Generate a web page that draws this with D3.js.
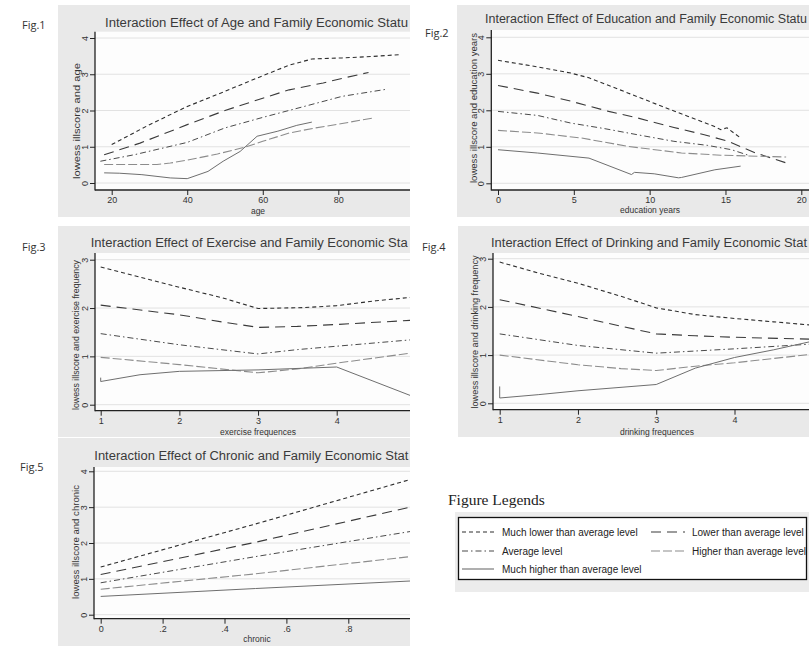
<!DOCTYPE html>
<html>
<head>
<meta charset="utf-8">
<script src="https://cdn.jsdelivr.net/npm/d3@7"></script>
<style>
body { margin: 0; background: #fff; }
svg { display: block; }
</style>
</head>
<body>
<svg width="809" height="646"></svg>
<script>

// income levels (legend)
var levels = ["Much lower than average level", "Lower than average level",
    "Average level", "Higher than average level", "Much higher than average level"];

// tick values
var ageTicks = [20, 40, 60, 80];
var eduTicks = [0, 5, 10, 15, 20];
var freqTicks = [1, 2, 3, 4];
var chronicTicks = [0, 0.2, 0.4, 0.6, 0.8];
var illTicks4 = [0, 1, 2, 3, 4];
var illTicks3 = [0, 1, 2, 3];

// Fig.1 age
var ageMuchLower = [[20,1.06],[30,1.61],[40,2.11],[50,2.53],[60,2.96],[67,3.25],[73,3.42],[81,3.45],[89,3.49],[96,3.54]];
var ageLower = [[18,0.78],[27.5,1.10],[40,1.61],[50,2.0],[60,2.34],[67,2.57],[76,2.76],[82,2.91],[88,3.05]];
var ageAverage = [[17,0.6],[26,0.78],[40,1.12],[50,1.52],[60,1.81],[72,2.14],[81,2.39],[93,2.59]];
var ageHigher = [[18,0.51],[32,0.51],[35.5,0.55],[40,0.63],[48,0.8],[55,0.98],[60,1.15],[67,1.38],[74,1.52],[81,1.64],[89,1.79]];
var ageMuchHigher = [[18,0.28],[22,0.27],[28,0.23],[35.5,0.14],[40,0.12],[45.5,0.32],[49.5,0.6],[54,0.87],[58.5,1.29],[64,1.43],[69,1.59],[73,1.68]];

// Fig.2 education years
var eduMuchLower = [[0,3.37],[2.6,3.19],[4.8,3.02],[6,2.89],[8.6,2.47],[10.8,2.11],[12.5,1.84],[14.2,1.57],[14.7,1.47],[15.1,1.52],[16,1.24]];
var eduLower = [[0,2.68],[2.6,2.47],[4.8,2.25],[7.3,1.97],[9.2,1.79],[11.6,1.53],[13.6,1.33],[15.2,1.15],[16,1.0],[17,0.83],[19,0.56]];
var eduAverage = [[0,1.97],[2.6,1.86],[4.8,1.65],[7,1.5],[9.2,1.33],[11.6,1.15],[13.8,1.04],[15.4,0.92],[16.5,0.77]];
var eduHigher = [[0,1.45],[2.6,1.38],[5.5,1.24],[8.6,1.01],[12.1,0.83],[14.7,0.77],[19,0.72]];
var eduMuchHigher = [[0,0.92],[2.6,0.83],[6,0.69],[8.8,0.24],[9,0.3],[10.3,0.26],[11.9,0.15],[12.1,0.16],[14.3,0.37],[16,0.47]];

// Fig.3 exercise frequences
var exMuchLower = [[1,2.85],[2,2.43],[2.55,2.21],[3,1.99],[3.6,2.01],[4,2.05],[4.5,2.15],[5,2.23]];
var exLower = [[1,2.06],[2,1.86],[2.55,1.71],[3,1.6],[3.5,1.62],[4,1.66],[5,1.75]];
var exAverage = [[1,1.47],[2,1.24],[3,1.05],[3.5,1.14],[4,1.21],[5,1.35]];
var exHigher = [[1,0.98],[2,0.83],[3,0.66],[3.5,0.74],[4,0.86],[5,1.08]];
var exMuchHigher = [[1,0.56],[1,0.48],[1.5,0.62],[2,0.69],[3,0.72],[4,0.78],[5,0.15]];

// Fig.4 drinking frequences
var drMuchLower = [[1,2.93],[1.5,2.70],[2,2.49],[2.55,2.22],[3,1.98],[3.5,1.84],[4,1.76],[4.5,1.69],[5,1.62]];
var drLower = [[1,2.15],[2,1.8],[2.55,1.6],[3,1.44],[3.5,1.40],[4,1.37],[5,1.33]];
var drAverage = [[1,1.44],[2,1.2],[3,1.04],[4,1.13],[5,1.23]];
var drHigher = [[1,1.0],[2,0.8],[2.55,0.72],[3,0.68],[3.5,0.77],[4,0.84],[5,1.02]];
var drMuchHigher = [[1,0.35],[1,0.11],[1.5,0.18],[2,0.26],[3,0.39],[3.5,0.73],[4,0.95],[4.5,1.11],[5,1.29]];

// Fig.5 chronic
var chMuchLower = [[0,1.33],[0.5,2.53],[1,3.77]];
var chLower = [[0,1.12],[0.5,2.02],[1,3.0]];
var chAverage = [[0,0.89],[0.5,1.62],[1,2.32]];
var chHigher = [[0,0.71],[0.5,1.14],[1,1.62]];
var chMuchHigher = [[0,0.51],[0.5,0.73],[1,0.94]];

// line look for each level
var lineStyles = [
    {dash: "4,3", color: "#2e2e2e", width: 1.1},
    {dash: "10,6", color: "#3a3a3a", width: 1.1},
    {dash: "6,3,1.5,3", color: "#4a4a4a", width: 1.0},
    {dash: "9,3", color: "#8c8c8c", width: 1.1},
    {dash: null, color: "#6e6e6e", width: 1.0}
];

var svg = d3.select('svg');
var defs = svg.append('defs');

// titles are shown as far as the picture keeps them
var panels = [
    {fig: "Fig.1", figX: 22, figY: 29, box: [58, 5, 410, 217], plot: [95, 31.7, 410, 190],
     title: "Interaction Effect of Age and Family Economic Statu", titleX: 105, titleY: 27, titleLen: 303,
     xTitle: "age", xTitleX: 258, xTitleY: 214,
     yTitle: "lowess illscore and age", yTitleX: 77, yTitleY: 121, yTitleLen: 116,
     xDom: [20, 80], xRange: [111.7, 338.3], yDom: [0, 4], yRange: [183, 38],
     xTicks: ageTicks, yTicks: illTicks4,
     series: [ageMuchLower, ageLower, ageAverage, ageHigher, ageMuchHigher]},
    {fig: "Fig.2", figX: 425, figY: 37, box: [457, 5, 809, 217], plot: [491.3, 30, 809, 190],
     title: "Interaction Effect of Education and Family Economic Statu", titleX: 485, titleY: 23, titleLen: 322,
     xTitle: "education years", xTitleX: 650, xTitleY: 213,
     yTitle: "lowess illscore and education years", yTitleX: 474, yTitleY: 108, yTitleLen: 150,
     xDom: [0, 20], xRange: [498, 801.3], yDom: [0, 4], yRange: [183.3, 37.3],
     xTicks: eduTicks, yTicks: illTicks4,
     series: [eduMuchLower, eduLower, eduAverage, eduHigher, eduMuchHigher]},
    {fig: "Fig.3", figX: 22, figY: 251, box: [58, 226, 410, 437], plot: [95, 253, 410, 410.7],
     title: "Interaction Effect of Exercise and Family Economic Sta", titleX: 90.7, titleY: 247, titleLen: 317,
     xTitle: "exercise frequences", xTitleX: 258, xTitleY: 435,
     yTitle: "lowess illscore and exercise frequency", yTitleX: 76, yTitleY: 335, yTitleLen: 150,
     xDom: [1, 4], xRange: [100.7, 336.7], yDom: [0, 3], yRange: [404.7, 259.7],
     xTicks: freqTicks, yTicks: illTicks3,
     series: [exMuchLower, exLower, exAverage, exHigher, exMuchHigher]},
    {fig: "Fig.4", figX: 422, figY: 251, box: [458, 226, 809, 437], plot: [493, 253, 809, 409.7],
     title: "Interaction Effect of Drinking and Family Economic Stat", titleX: 491, titleY: 247, titleLen: 316,
     xTitle: "drinking frequences", xTitleX: 657, xTitleY: 435,
     yTitle: "lowess illscore and drinking frequency", yTitleX: 475, yTitleY: 332, yTitleLen: 153,
     xDom: [1, 4], xRange: [499.7, 734.5], yDom: [0, 3], yRange: [403.3, 258.7],
     xTicks: freqTicks, yTicks: illTicks3,
     series: [drMuchLower, drLower, drAverage, drHigher, drMuchHigher]},
    {fig: "Fig.5", figX: 20, figY: 471, box: [58, 438, 410, 646], plot: [94, 467, 410, 618.7],
     title: "Interaction Effect of Chronic and Family Economic Stat", titleX: 94.3, titleY: 459.5, titleLen: 314,
     xTitle: "chronic", xTitleX: 257, xTitleY: 642,
     yTitle: "lowess illscore and chronic", yTitleX: 76, yTitleY: 542, yTitleLen: 114,
     xDom: [0, 0.8], xRange: [100.7, 348.3], yDom: [0, 4], yRange: [614.7, 471.3],
     xTicks: chronicTicks, yTicks: illTicks4,
     series: [chMuchLower, chLower, chAverage, chHigher, chMuchHigher]}
];

function chronicFormat(d) {
    if (d === 0) return "0";
    return d3.format(".1f")(d).replace(/^0/, "");
}

panels.forEach(function(p, i) {
    var g = svg.append('g');
    var b = p.box, pl = p.plot;

    // figure number
    svg.append('text')
        .attr('x', p.figX)
        .attr('y', p.figY)
        .attr('font-family', 'Open Sans, Noto Sans, sans-serif')
        .attr('font-size', 11)
        .attr('fill', '#333')
        .text(p.fig);

    defs.append('clipPath').attr('id', 'box' + i)
        .append('rect')
        .attr('x', b[0]).attr('y', b[1])
        .attr('width', b[2] - b[0]).attr('height', b[3] - b[1]);
    defs.append('clipPath').attr('id', 'plot' + i)
        .append('rect')
        .attr('x', pl[0]).attr('y', pl[1])
        .attr('width', pl[2] - pl[0]).attr('height', pl[3] - pl[1]);

    var pg = g.append('g').attr('clip-path', 'url(#box' + i + ')');

    pg.append('rect')
        .attr('x', b[0]).attr('y', b[1])
        .attr('width', b[2] - b[0]).attr('height', b[3] - b[1])
        .attr('fill', '#e9e9e9');

    pg.append('rect')
        .attr('x', pl[0]).attr('y', pl[1])
        .attr('width', pl[2] - pl[0]).attr('height', pl[3] - pl[1])
        .attr('fill', '#fdfdfd');

    pg.append('text')
        .attr('x', p.titleX)
        .attr('y', p.titleY)
        .attr('font-family', 'Liberation Sans, Arial, sans-serif')
        .attr('font-size', 12.5)
        .attr('fill', '#3a3a3a')
        .attr('textLength', p.titleLen)
        .attr('lengthAdjust', 'spacingAndGlyphs')
        .text(p.title);

    var xScale = d3.scaleLinear().domain(p.xDom).range(p.xRange);
    var yScale = d3.scaleLinear().domain(p.yDom).range(p.yRange);

    // horizontal grid
    pg.append('g')
        .selectAll('line')
        .data(p.yTicks)
        .enter()
        .append('line')
        .attr('x1', pl[0]).attr('x2', pl[2])
        .attr('y1', function(d){ return yScale(d); })
        .attr('y2', function(d){ return yScale(d); })
        .attr('stroke', '#e2e2e2')
        .attr('stroke-width', 1);

    // lowess lines
    var line = d3.line()
        .x(function(d){ return xScale(d[0]); })
        .y(function(d){ return yScale(d[1]); });

    pg.append('g')
        .attr('clip-path', 'url(#plot' + i + ')')
        .selectAll('path')
        .data(p.series)
        .enter()
        .append('path')
        .attr('d', line)
        .attr('fill', 'none')
        .attr('stroke', function(d, k){ return lineStyles[k].color; })
        .attr('stroke-width', function(d, k){ return lineStyles[k].width; })
        .attr('stroke-dasharray', function(d, k){ return lineStyles[k].dash; });

    // axes
    var xAxis = d3.axisBottom(xScale)
        .tickValues(p.xTicks)
        .tickSize(5)
        .tickPadding(2);
    if (i === 4) xAxis.tickFormat(chronicFormat);
    else xAxis.tickFormat(d3.format('d'));

    var xg = pg.append('g')
        .attr('transform', 'translate(0,' + pl[3] + ')')
        .call(xAxis);
    xg.select('.domain').remove();
    xg.selectAll('line').attr('stroke', '#222');
    xg.selectAll('text')
        .attr('font-family', 'Liberation Sans, Arial, sans-serif')
        .attr('font-size', 9)
        .attr('fill', '#333');

    var yAxis = d3.axisLeft(yScale)
        .tickValues(p.yTicks)
        .tickSize(5)
        .tickFormat(d3.format('d'));

    var yg = pg.append('g')
        .attr('transform', 'translate(' + pl[0] + ',0)')
        .call(yAxis);
    yg.select('.domain').remove();
    yg.selectAll('line').attr('stroke', '#222');
    yg.selectAll('text')
        .attr('transform', 'rotate(-90)')
        .attr('x', 0)
        .attr('y', -7)
        .attr('dy', 0)
        .attr('text-anchor', 'middle')
        .attr('font-family', 'Liberation Sans, Arial, sans-serif')
        .attr('font-size', 9)
        .attr('fill', '#333');

    // axis lines
    pg.append('line')
        .attr('x1', pl[0]).attr('x2', pl[0])
        .attr('y1', pl[1]).attr('y2', pl[3] + 0.5)
        .attr('stroke', '#222').attr('stroke-width', 1.3);
    pg.append('line')
        .attr('x1', pl[0]).attr('x2', pl[2])
        .attr('y1', pl[3]).attr('y2', pl[3])
        .attr('stroke', '#222').attr('stroke-width', 1.3);

    // axis titles
    pg.append('text')
        .attr('x', p.xTitleX)
        .attr('y', p.xTitleY)
        .attr('text-anchor', 'middle')
        .attr('font-family', 'Liberation Sans, Arial, sans-serif')
        .attr('font-size', 8.5)
        .attr('fill', '#333')
        .text(p.xTitle);

    pg.append('text')
        .attr('transform', 'translate(' + p.yTitleX + ',' + p.yTitleY + ') rotate(-90)')
        .attr('text-anchor', 'middle')
        .attr('dy', '0.35em')
        .attr('font-family', 'Liberation Sans, Arial, sans-serif')
        .attr('font-size', 9)
        .attr('fill', '#333')
        .attr('textLength', p.yTitleLen)
        .attr('lengthAdjust', 'spacingAndGlyphs')
        .text(p.yTitle);
});

// legend
svg.append('text')
    .attr('x', 448)
    .attr('y', 505)
    .attr('font-family', 'Liberation Serif, Times New Roman, serif')
    .attr('font-size', 15.5)
    .attr('fill', '#222')
    .text('Figure Legends');

svg.append('rect')
    .attr('x', 455).attr('y', 512)
    .attr('width', 354).attr('height', 80)
    .attr('fill', '#ececec');

svg.append('rect')
    .attr('x', 458.5).attr('y', 517.5)
    .attr('width', 348).attr('height', 62)
    .attr('fill', '#fff')
    .attr('stroke', '#111')
    .attr('stroke-width', 1.3);

var legendPos = [
    {x: 462, y: 532}, {x: 651, y: 532},
    {x: 462, y: 551}, {x: 651, y: 551},
    {x: 462, y: 569}
];

var lg = svg.append('g')
    .selectAll('g')
    .data(levels)
    .enter()
    .append('g')
    .attr('transform', function(d, k){ return 'translate(' + legendPos[k].x + ',' + legendPos[k].y + ')'; });

lg.append('line')
    .attr('x1', 0).attr('x2', function(d, k){ return k % 2 === 1 && k < 4 ? 34 : 32; })
    .attr('y1', 0).attr('y2', 0)
    .attr('stroke', function(d, k){ return lineStyles[k].color; })
    .attr('stroke-width', 1.1)
    .attr('stroke-dasharray', function(d, k){ return lineStyles[k].dash; });

lg.append('text')
    .attr('x', function(d, k){ return k % 2 === 1 ? 41 : 40; })
    .attr('y', 3.5)
    .attr('font-family', 'Liberation Sans, Arial, sans-serif')
    .attr('font-size', 10)
    .attr('fill', '#222')
    .text(function(d){ return d; });

</script>
</body>
</html>
